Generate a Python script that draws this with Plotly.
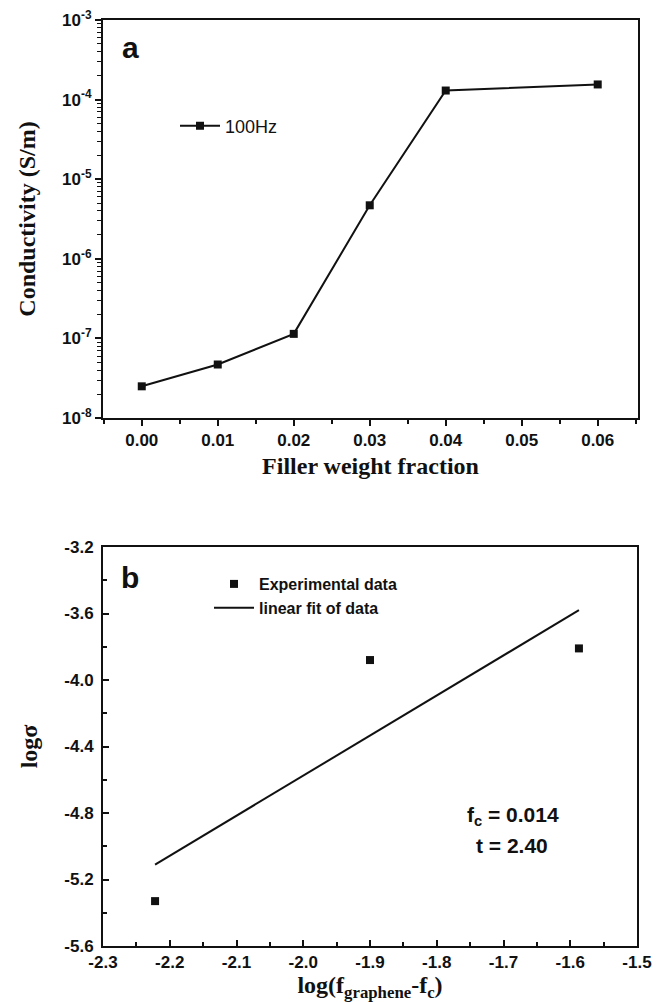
import plotly.graph_objects as go

# ---- data (panel a) ----
filler_fraction = [0.00, 0.01, 0.02, 0.03, 0.04, 0.06]
conductivity = [2.5e-8, 4.7e-8, 1.14e-7, 4.7e-6, 1.3e-4, 1.55e-4]
a_ytick_vals = [1e-8, 1e-7, 1e-6, 1e-5, 1e-4, 1e-3]
a_ytick_text = ["10<sup>-8</sup>", "10<sup>-7</sup>", "10<sup>-6</sup>", "10<sup>-5</sup>", "10<sup>-4</sup>", "10<sup>-3</sup>"]
a_xtick_vals = [0.00, 0.01, 0.02, 0.03, 0.04, 0.05, 0.06]
a_xtick_text = ["0.00", "0.01", "0.02", "0.03", "0.04", "0.05", "0.06"]

# ---- data (panel b) ----
log_f = [-2.222, -1.900, -1.587]
log_sigma = [-5.33, -3.88, -3.81]
fit_x = [-2.222, -1.587]
fit_y = [-5.11, -3.58]
b_ytick_vals = [-5.6, -5.2, -4.8, -4.4, -4.0, -3.6, -3.2]
b_ytick_text = ["-5.6", "-5.2", "-4.8", "-4.4", "-4.0", "-3.6", "-3.2"]
b_xtick_vals = [-2.3, -2.2, -2.1, -2.0, -1.9, -1.8, -1.7, -1.6, -1.5]
b_xtick_text = ["-2.3", "-2.2", "-2.1", "-2.0", "-1.9", "-1.8", "-1.7", "-1.6", "-1.5"]

W, H = 666, 1002
ML, MR, MT, MB = 103, 28, 20, 56
PW, PH = W - ML - MR, H - MT - MB
BLACK = "#111111"
SANS = "Liberation Sans, Arial, sans-serif"
SERIF = "Liberation Serif, Times New Roman, serif"


def px_x(p):
    return (p - ML) / PW


def px_y(p):
    return (H - MB - p) / PH


def bold(labels):
    return ["<b>%s</b>" % t for t in labels]


fig = go.Figure()

fig.add_trace(go.Scatter(
    x=filler_fraction, y=conductivity, mode="lines+markers", name="100Hz",
    line=dict(color=BLACK, width=2),
    marker=dict(symbol="square", size=8, color=BLACK),
    xaxis="x", yaxis="y", legend="legend",
))

fig.add_trace(go.Scatter(
    x=log_f, y=log_sigma, mode="markers", name="<b>Experimental data</b>",
    marker=dict(symbol="square", size=8, color=BLACK),
    xaxis="x2", yaxis="y2", legend="legend2",
))
fig.add_trace(go.Scatter(
    x=fit_x, y=fit_y, mode="lines", name="<b>linear fit of data</b>",
    line=dict(color=BLACK, width=2),
    xaxis="x2", yaxis="y2", legend="legend2",
))

tickfont = dict(family=SANS, size=17, color=BLACK, weight="bold")
titlefont = dict(family=SERIF, size=24, color=BLACK, weight="bold")

common = dict(showline=True, linecolor=BLACK, linewidth=2, mirror=True,
              showgrid=False, zeroline=False, tickcolor=BLACK, tickfont=tickfont,
              automargin=False)

fig.update_layout(
    width=W, height=H,
    margin=dict(l=ML, r=MR, t=MT, b=MB),
    paper_bgcolor="white", plot_bgcolor="white",
    showlegend=True,
    xaxis=dict(domain=[0, 1], anchor="y", range=[-0.0051, 0.0653],
               tickvals=a_xtick_vals, ticktext=bold(a_xtick_text),
               ticks="outside", ticklen=6, tickwidth=2,
               minor=dict(ticks="outside", ticklen=4, tickwidth=2, tickcolor=BLACK, dtick=0.005),
               title=dict(text="<b>Filler weight fraction</b>", font=titlefont, standoff=8),
               **common),
    yaxis=dict(domain=[px_y(418), 1], anchor="x", type="log", range=[-8, -3],
               tickvals=a_ytick_vals, ticktext=bold(a_ytick_text),
               ticks="outside", ticklen=6, tickwidth=2,
               minor=dict(ticks="outside", ticklen=4, tickwidth=1, tickcolor=BLACK, dtick="D1"),
               title=dict(text="<b>Conductivity (S/m)</b>", font=titlefont, standoff=20),
               **common),
    xaxis2=dict(domain=[0, px_x(637)], anchor="y2", range=[-2.3, -1.5],
                tickvals=b_xtick_vals, ticktext=bold(b_xtick_text),
                ticks="inside", ticklen=6, tickwidth=2,
                minor=dict(ticks="inside", ticklen=4, tickwidth=2, tickcolor=BLACK, dtick=0.05),
                title=dict(text="<b>log(f<sub>graphene</sub>-f<sub>c</sub>)</b>", font=titlefont, standoff=7),
                **common),
    yaxis2=dict(domain=[0, px_y(547)], anchor="x2", range=[-5.6, -3.2],
                tickvals=b_ytick_vals, ticktext=bold(b_ytick_text),
                ticks="inside", ticklen=6, tickwidth=2, ticklabelstandoff=4,
                minor=dict(ticks="inside", ticklen=4, tickwidth=2, tickcolor=BLACK, dtick=0.2),
                title=dict(text="<b>logσ</b>", font=titlefont, standoff=20),
                **common),
    legend=dict(x=px_x(175), y=px_y(126), xanchor="left", yanchor="middle",
                bgcolor="rgba(0,0,0,0)", borderwidth=0, itemwidth=40,
                font=dict(family=SANS, size=18, color=BLACK)),
    legend2=dict(x=px_x(209), y=px_y(596), xanchor="left", yanchor="middle",
                 bgcolor="rgba(0,0,0,0)", borderwidth=0, itemwidth=40,
                 font=dict(family=SANS, size=16, color=BLACK)),
    annotations=[
        dict(text="<b>a</b>", x=px_x(130), y=px_y(47), xref="paper", yref="paper",
             xanchor="center", yanchor="middle",
             showarrow=False, font=dict(family=SANS, size=30, color=BLACK)),
        dict(text="<b>b</b>", x=px_x(130), y=px_y(577), xref="paper", yref="paper",
             xanchor="center", yanchor="middle",
             showarrow=False, font=dict(family=SANS, size=30, color=BLACK)),
        dict(text="<b>f<sub>c</sub> = 0.014</b>", x=px_x(513), y=px_y(816), xref="paper", yref="paper",
             xanchor="center", yanchor="middle",
             showarrow=False, font=dict(family=SANS, size=21, color=BLACK)),
        dict(text="<b>t = 2.40</b>", x=px_x(512), y=px_y(845), xref="paper", yref="paper",
             xanchor="center", yanchor="middle",
             showarrow=False, font=dict(family=SANS, size=21, color=BLACK)),
    ],
)

fig.write_html("out.html")
